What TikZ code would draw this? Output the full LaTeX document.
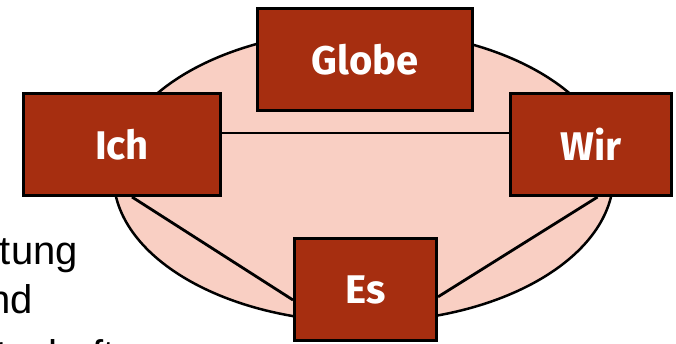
\documentclass[tikz,border=0pt]{standalone}
\usepackage{fontspec}
\setmainfont{Liberation Sans}
\newfontfamily\boxfont{Fira Sans}
\usetikzlibrary{calc,backgrounds}
\definecolor{rust}{RGB}{166,46,16}
\definecolor{blush}{RGB}{249,207,195}
\begin{document}
\begin{tikzpicture}[x=1pt,y=-1pt,
  topic/.style={draw=black, line width=3pt, fill=rust, text=white,
    font=\boxfont\bfseries\fontsize{40}{40}\selectfont, inner sep=0pt,
    minimum height=102pt},
  link/.style={draw=black, line width=2.8pt},
  side/.style={font=\fontsize{40}{48}\selectfont, anchor=base east, inner sep=0pt}]
\useasboundingbox (0,0) rectangle (676,344);
\clip (0,0) rectangle (676,344);

\node[topic, minimum width=215pt] (globe) at (365,59.5) {Globe};
\node[topic, minimum width=197pt] (ich) at (122,144.5) {Ich};
\node[topic, minimum width=161pt] (wir) at (591,144.5) {Wir};
\node[topic, minimum width=142pt] (es) at (365.5,289.5) {Es};

\node[side] (t1) at (78,265) {tung};
\node[side] (t2) at (33,313) {nd};
\node[side] (t3) at (115,368) {tschaft};

\begin{scope}[on background layer]
  \draw[fill=blush, line width=2.5pt] (363.5,176) ellipse [x radius=250, y radius=146];
  \draw[link] ($(ich.north east)!0.39!(ich.south east)$) -- ($(wir.north west)!0.39!(wir.south west)$);
  \draw[link] ($(ich.south west)!0.55!(ich.south east)$) -- ($(es.north west)!0.6!(es.south west)$);
  \draw[link] ($(wir.south west)!0.54!(wir.south east)$) -- ($(es.north east)!0.57!(es.south east)$);
\end{scope}
\end{tikzpicture}
\end{document}
